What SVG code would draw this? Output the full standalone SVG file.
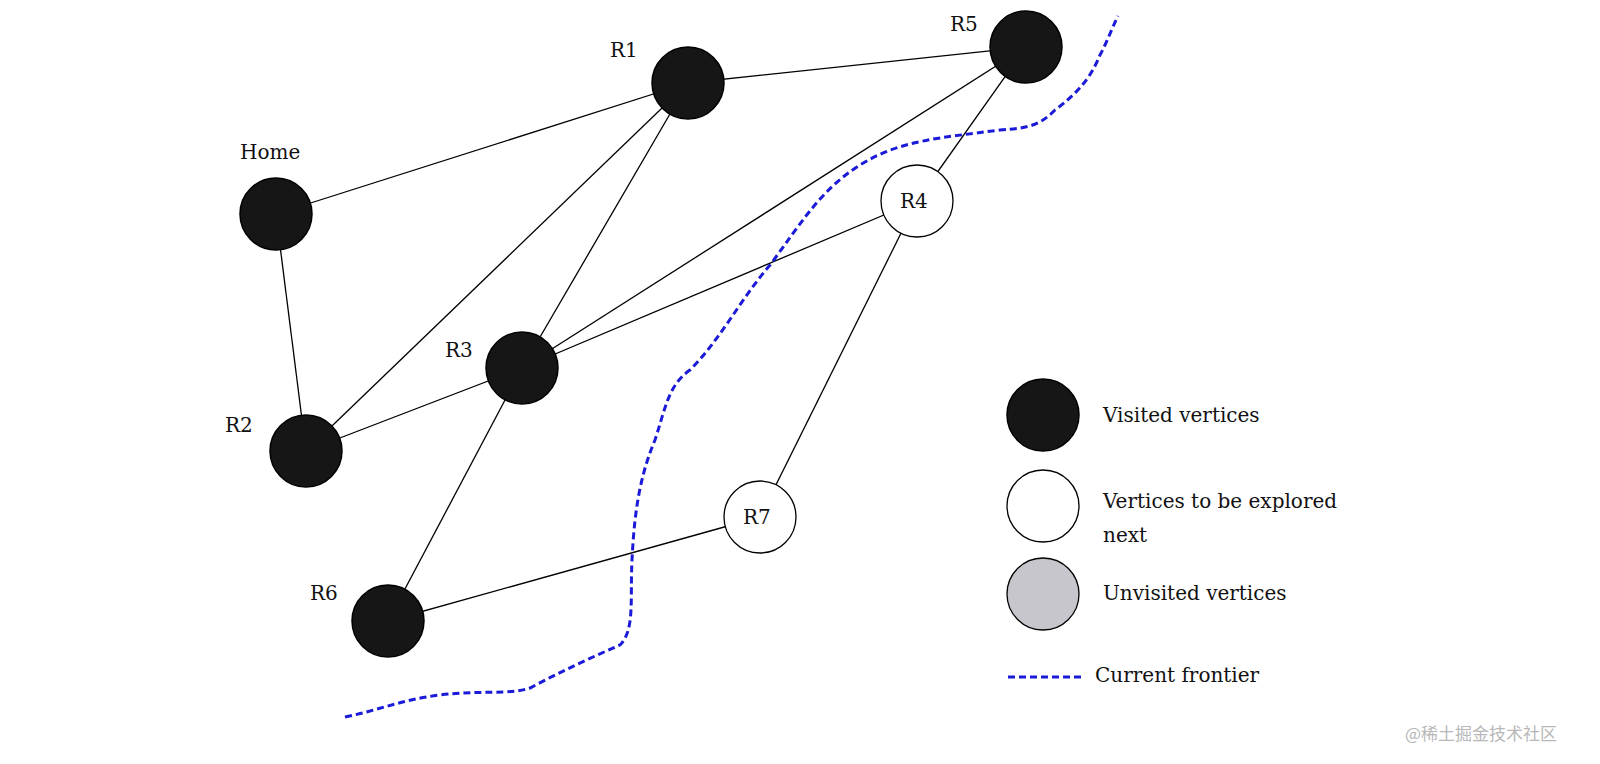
<svg xmlns="http://www.w3.org/2000/svg" width="1600" height="764" viewBox="0 0 1600 764">
<style>
.e{stroke:#000;stroke-width:1.3;fill:none}
.v{fill:#161616;stroke:#000;stroke-width:1.5}
.w{fill:#fff;stroke:#000;stroke-width:1.3}
.u{fill:#c6c6cc;stroke:#000;stroke-width:1.3}
text{font-family:"DejaVu Serif","Liberation Serif",serif;font-size:20px;fill:#111}
.f{stroke:#1a1ad8;stroke-width:3;stroke-dasharray:7 4;fill:none}
</style>
<rect width="1600" height="764" fill="#fff"/>
<g id="connectors">
<line class="e" x1="276" y1="214" x2="688" y2="83"/>
<line class="e" x1="276" y1="214" x2="306" y2="451"/>
<line class="e" x1="306" y1="451" x2="688" y2="83"/>
<line class="e" x1="306" y1="451" x2="522" y2="368"/>
<line class="e" x1="522" y1="368" x2="688" y2="83"/>
<line class="e" x1="522" y1="368" x2="1026" y2="47"/>
<line class="e" x1="522" y1="368" x2="917" y2="201"/>
<line class="e" x1="688" y1="83" x2="1026" y2="47"/>
<line class="e" x1="1026" y1="47" x2="917" y2="201"/>
<line class="e" x1="917" y1="201" x2="760" y2="517"/>
<line class="e" x1="522" y1="368" x2="388" y2="621"/>
<line class="e" x1="388" y1="621" x2="760" y2="517"/>
</g>
<path class="f" d="M345,717 C380,710 400,700 440,695 C480,690 510,695 530,688 C560,672 590,658 620,645 C635,630 630,600 632,560 C634,520 638,480 655,440 C665,410 668,385 690,370 C720,340 740,300 770,265 C800,225 820,190 860,165 C900,140 940,138 1000,130 C1030,128 1040,125 1055,110 C1075,95 1090,80 1100,55 C1108,40 1112,28 1118,16"/>
<g id="Home"><circle class="v" cx="276" cy="214" r="36"/><text x="240" y="159">Home</text></g>
<g id="R1"><circle class="v" cx="688" cy="83" r="36"/><text x="610" y="57">R1</text></g>
<g id="R5"><circle class="v" cx="1026" cy="47" r="36"/><text x="950" y="31">R5</text></g>
<g id="R4"><circle class="w" cx="917" cy="201" r="36"/><text x="900" y="208">R4</text></g>
<g id="R3"><circle class="v" cx="522" cy="368" r="36"/><text x="445" y="357">R3</text></g>
<g id="R2"><circle class="v" cx="306" cy="451" r="36"/><text x="225" y="432">R2</text></g>
<g id="R7"><circle class="w" cx="760" cy="517" r="36"/><text x="743" y="524">R7</text></g>
<g id="R6"><circle class="v" cx="388" cy="621" r="36"/><text x="310" y="600">R6</text></g>
<g id="legend">
<circle class="v" cx="1043" cy="415" r="36"/><text x="1103" y="422">Visited vertices</text>
<circle class="w" cx="1043" cy="506" r="36"/><text x="1103" y="508">Vertices to be explored</text><text x="1103" y="542">next</text>
<circle class="u" cx="1043" cy="594" r="36"/><text x="1103" y="600">Unvisited vertices</text>
<line class="f" x1="1008" y1="677" x2="1082" y2="677"/><text x="1095" y="682">Current frontier</text>
</g>
<text x="1405" y="740" style="font-family:'Noto Sans CJK SC',sans-serif;font-size:17px;fill:#b8b8b8">@稀土掘金技术社区</text>
</svg>
